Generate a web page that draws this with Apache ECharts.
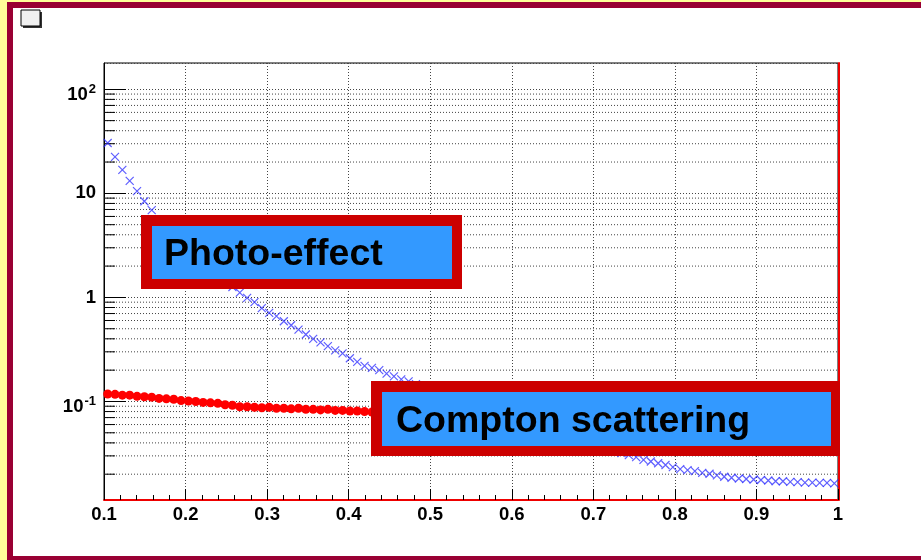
<!DOCTYPE html>
<html>
<head>
<meta charset="utf-8">
<script src="https://cdn.jsdelivr.net/npm/echarts@6/dist/echarts.min.js"></script>
<style>
  html, body { margin: 0; padding: 0; }
  #main { width: 921px; height: 560px; }
</style>
</head>
<body>
<div id="main"></div>
<script>
  var myChart = echarts.init(document.getElementById('main'))

  // bins: 100 bins from 0.1 to 1
  var xMin = 0.1
  var xMax = 1
  var nBins = 100
  var binCenters = []
  for (var i = 0; i < nBins; i++) {
    binCenters.push(xMin + (i + 0.5) * (xMax - xMin) / nBins)
  }

  // photo-effect (blue x)
  var photoValues = [
    30.5, 22.4, 16.8, 13.2, 10.5, 8.4, 6.9,
    5.6, 4.6, 3.9, 3.3, 2.85, 2.45, 2.12, 1.85, 1.63, 1.42, 1.26,
    1.11, 0.99, 0.90, 0.79, 0.71, 0.66, 0.59, 0.54, 0.49, 0.44, 0.40, 0.37,
    0.34, 0.31, 0.29, 0.26, 0.24, 0.22, 0.21, 0.20, 0.185, 0.174, 0.163, 0.156,
    0.147, 0.139, 0.131, 0.124, 0.117, 0.111, 0.105, 0.099, 0.094, 0.089,
    0.084, 0.080, 0.076, 0.072, 0.068, 0.065, 0.061, 0.058, 0.055, 0.052,
    0.049, 0.047, 0.044, 0.042, 0.040, 0.038, 0.036, 0.034, 0.032, 0.0305, 0.0292,
    0.0275, 0.0265, 0.0255, 0.0245, 0.0234, 0.0224, 0.0219, 0.0214, 0.0206,
    0.0202, 0.0195, 0.0189, 0.0185, 0.0182, 0.0180, 0.0178, 0.0176, 0.0174,
    0.0171, 0.0171, 0.0169, 0.0168, 0.0166, 0.0166, 0.0165, 0.0165, 0.0163
  ]

  // compton (red dots)
  var comptonValues = [
    0.118, 0.117, 0.115, 0.115, 0.112, 0.111, 0.110, 0.107, 0.106, 0.105,
    0.102, 0.101, 0.100, 0.098, 0.097, 0.096, 0.093, 0.092, 0.089, 0.089,
    0.088, 0.087, 0.088, 0.086, 0.086, 0.085, 0.086, 0.084, 0.084, 0.083,
    0.084, 0.082, 0.082, 0.081, 0.081, 0.080, 0.079,
    0.079, 0.078, 0.078, 0.077, 0.077, 0.077, 0.076, 0.076, 0.075, 0.075,
    0.075, 0.074, 0.074, 0.073, 0.073, 0.073, 0.072, 0.072, 0.071, 0.071,
    0.071, 0.070, 0.070, 0.070, 0.069, 0.069, 0.069, 0.068, 0.068, 0.068,
    0.067, 0.067, 0.067, 0.066, 0.066, 0.066, 0.065, 0.065, 0.065, 0.065,
    0.064, 0.064, 0.064, 0.063, 0.063, 0.063, 0.063, 0.062, 0.062, 0.062,
    0.062, 0.061, 0.061, 0.061, 0.061, 0.060, 0.060, 0.060, 0.060, 0.060,
    0.059, 0.059, 0.059
  ]

  var yMin = 0.0113
  var yMax = 179
  // minor log ticks 2..9 x decade
  var mantissas = [2, 3, 4, 5, 6, 7, 8, 9]
  var decades = [0.01, 0.1, 1, 10, 100]
  var minorTicks = []
  decades.forEach(d => {
    mantissas.forEach(m => {
      var v = +(m * d).toPrecision(3)
      if (v > yMin && v < yMax) minorTicks.push(v)
    })
  })

  var font = '"Liberation Sans", Arial, Helvetica, sans-serif'

  function pairs(vals) {
    return vals.map((v, i) => [binCenters[i], v])
  }

  option = {
    backgroundColor: '#ffff99',
    animation: false,
    grid: {
      left: 104, right: 83, top: 63, bottom: 60,
      show: true,
      backgroundColor: '#fff',
      borderColor: '#000',
      borderWidth: 1
    },
    xAxis: {
      type: 'value',
      min: xMin,
      max: xMax,
      interval: 0.1,
      axisLine: { show: true, onZero: false, lineStyle: { color: '#ee0000', width: 2 } },
      axisTick: { inside: true, length: 11, lineStyle: { color: '#000' } },
      minorTick: { show: true, splitNumber: 5, length: 5, lineStyle: { color: '#000' } },
      splitLine: { show: true, lineStyle: { color: '#444', type: [1, 2], width: 1 } },
      axisLabel: {
        margin: 5,
        color: '#000',
        fontSize: 18.5,
        fontWeight: 'bold',
        fontFamily: font,
        formatter: v => (Math.abs(v - 1) < 1e-9 ? '1' : v.toFixed(1))
      }
    },
    yAxis: [{
      type: 'log',
      min: yMin,
      max: yMax,
      axisLine: { show: true, lineStyle: { color: '#000', width: 1 } },
      axisTick: { inside: true, length: 22, lineStyle: { color: '#000' } },
      splitLine: { show: true, lineStyle: { color: '#444', type: [1, 2], width: 1 } },
      axisLabel: {
        margin: 8,
        showMinLabel: false,
        showMaxLabel: false,
        formatter: v => {
          var e = Math.log10(v)
          var r = Math.round(e)
          if (Math.abs(e - r) > 1e-6) return ''
          if (r === 0) return '{n|1}'
          if (r === 1) return '{n|10}'
          return '{b|10}{s|' + r + '}'
        },
        rich: {
          n: { fontSize: 18.5, fontWeight: 'bold', fontFamily: font, color: '#000', lineHeight: 18 },
          b: { fontSize: 18.5, fontWeight: 'bold', fontFamily: font, color: '#000', lineHeight: 18, verticalAlign: 'bottom' },
          s: { fontSize: 13, fontWeight: 'bold', fontFamily: font, color: '#000', lineHeight: 30, verticalAlign: 'middle', padding: [0, 0, 0, 1] }
        }
      }
    }, {
      type: 'value',
      position: 'right',
      offset: 1,
      min: 0,
      max: 1,
      axisLine: { show: true, lineStyle: { color: '#ee0000', width: 2 } },
      axisTick: { show: false },
      axisLabel: { show: false },
      splitLine: { show: false }
    }],
    graphic: [
      // canvas frame
      { type: 'rect', z: -10, silent: true, shape: { x: 7, y: 2, width: 930, height: 570 }, style: { fill: '#990033' } },
      { type: 'rect', z: -9, silent: true, shape: { x: 13, y: 8, width: 920, height: 548 }, style: { fill: '#fff' } },
      // little box top-left
      { type: 'rect', z: 5, shape: { x: 23, y: 12, width: 19, height: 16 }, style: { fill: '#333' } },
      { type: 'rect', z: 6, shape: { x: 21, y: 10, width: 19, height: 16 }, style: { fill: '#f0f0f0', stroke: '#000', lineWidth: 1 } },
      // Photo-effect pave
      { type: 'rect', z: 100, shape: { x: 141, y: 215, width: 321, height: 74 }, style: { fill: '#cc0000' } },
      { type: 'rect', z: 101, shape: { x: 152, y: 226, width: 300, height: 53 }, style: { fill: '#3399ff' } },
      { type: 'text', z: 102, style: { text: 'Photo-effect', x: 164, y: 255, fill: '#000', font: 'bold 37.5px ' + font, verticalAlign: 'middle' } },
      // Compton pave
      { type: 'rect', z: 100, shape: { x: 371, y: 381, width: 469, height: 75 }, style: { fill: '#cc0000' } },
      { type: 'rect', z: 101, shape: { x: 382, y: 392, width: 449, height: 54 }, style: { fill: '#3399ff' } },
      { type: 'text', z: 102, style: { text: 'Compton scattering', x: 396, y: 422, fill: '#000', font: 'bold 37.5px ' + font, verticalAlign: 'middle' } }
    ],
    series: [
      {
        // minor log ticks + dotted grid
        type: 'custom',
        z: 1,
        silent: true,
        data: minorTicks.map(v => [xMin, v]),
        renderItem: (params, api) => {
          var v = api.value(1)
          var p0 = api.coord([xMin, v])
          var p1 = api.coord([xMax, v])
          return {
            type: 'group',
            children: [
              { type: 'line', shape: { x1: p0[0], y1: p0[1], x2: p1[0], y2: p1[1] }, style: { stroke: '#444', lineWidth: 1, lineDash: [1, 2] } },
              { type: 'line', shape: { x1: p0[0], y1: p0[1], x2: p0[0] + 11, y2: p0[1] }, style: { stroke: '#000', lineWidth: 1 } }
            ]
          }
        }
      },
      {
        name: 'Compton scattering',
        type: 'scatter',
        z: 3,
        symbol: 'circle',
        symbolSize: 9,
        itemStyle: { color: '#ff0000', opacity: 1 },
        data: pairs(comptonValues)
      },
      {
        name: 'Photo-effect',
        type: 'scatter',
        z: 4,
        symbol: 'path://M0,0L10,10M10,0L0,10',
        symbolSize: 8,
        itemStyle: { color: 'none', borderColor: 'rgba(40,40,255,0.75)', borderWidth: 1.2, opacity: 1 },
        data: pairs(photoValues)
      }
    ]
  };
  myChart.setOption(option);
</script>
</body>
</html>
